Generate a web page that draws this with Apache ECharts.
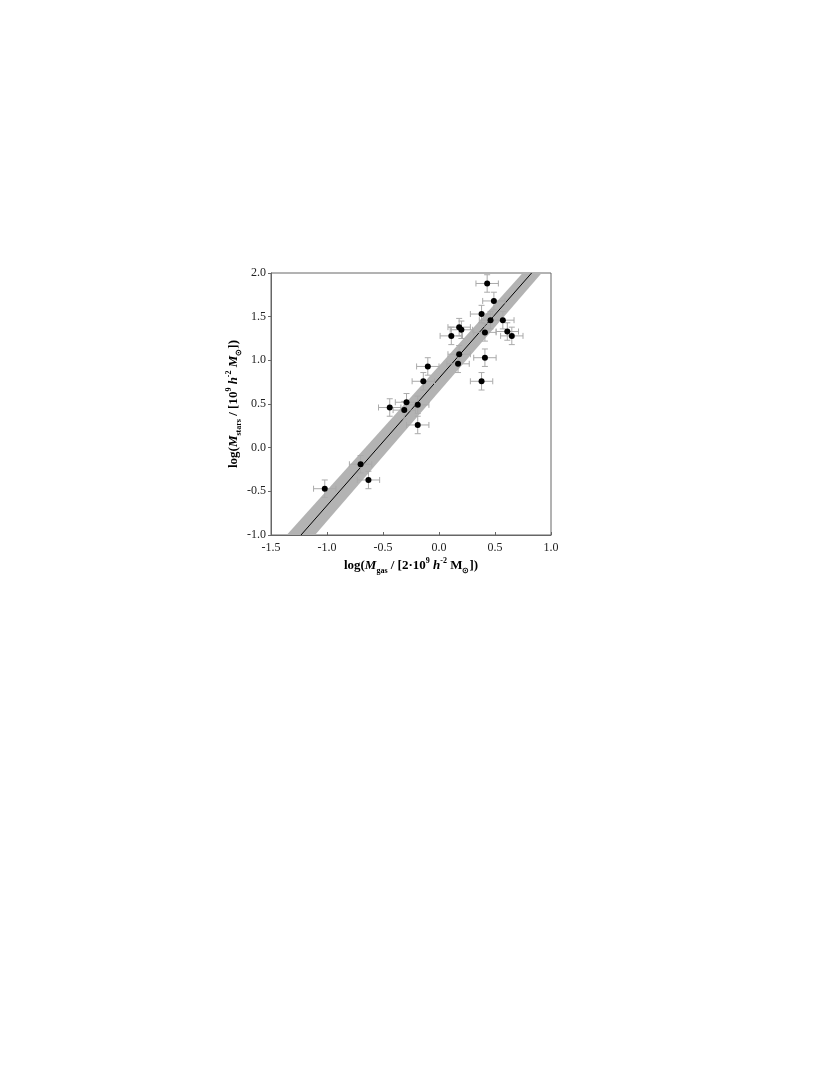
<!DOCTYPE html>
<html>
<head>
<meta charset="utf-8">
<script src="https://cdn.jsdelivr.net/npm/echarts@6/dist/echarts.min.js"></script>
<style>
  html, body { margin: 0; padding: 0; background: #fff; }
  #chart { width: 830px; height: 1075px; }
</style>
</head>
<body>
<div id="chart"></div>
<script>
// galaxies: log gas mass vs log stellar mass
const xVals = [-1.02, -0.70, -0.63, -0.44, -0.31, -0.29, -0.19, -0.19, -0.14, -0.10,
  0.11, 0.18, 0.20, 0.18, 0.17, 0.38, 0.43, 0.49, 0.46, 0.41, 0.41, 0.38, 0.57, 0.61, 0.65];
const yVals = [-0.47, -0.19, -0.37, 0.46, 0.43, 0.52, 0.49, 0.26, 0.76, 0.93,
  1.28, 1.38, 1.35, 1.07, 0.96, 1.53, 1.88, 1.68, 1.46, 1.32, 1.03, 0.76, 1.46, 1.33, 1.28];
const xErr = [0.10, 0.10, 0.10, 0.10, 0.10, 0.10, 0.10, 0.10, 0.10, 0.10,
  0.10, 0.10, 0.10, 0.10, 0.10, 0.10, 0.10, 0.10, 0.10, 0.10, 0.10, 0.10, 0.10, 0.10, 0.10];
const yErr = [0.10, 0.10, 0.10, 0.10, 0.10, 0.10, 0.10, 0.10, 0.10, 0.10,
  0.10, 0.10, 0.10, 0.10, 0.10, 0.10, 0.10, 0.10, 0.10, 0.10, 0.10, 0.10, 0.10, 0.10, 0.10];

// best fit line and its band (where they meet the frame)
const fitX = [-1.232, 0.827];
const fitY = [-1.0, 2.0];
const bandX = [-1.36, 0.747, 0.917, -1.107];
const bandY = [-1.0, 2.0, 2.0, -1.0];

const font = 'Liberation Serif';

const chart = echarts.init(document.getElementById('chart'));

const richName = {
  b: { fontFamily: font, fontWeight: 'bold', fontSize: 13, color: '#000', lineHeight: 18, verticalAlign: 'middle' },
  i: { fontFamily: font, fontWeight: 'bold', fontStyle: 'italic', fontSize: 13, color: '#000', lineHeight: 18, verticalAlign: 'middle' },
  sub: { fontFamily: font, fontWeight: 'bold', fontSize: 8, color: '#000', lineHeight: 10, verticalAlign: 'bottom' },
  sup: { fontFamily: font, fontWeight: 'bold', fontSize: 8, color: '#000', lineHeight: 10, verticalAlign: 'top' }
};

const points = xVals.map((x, i) => [x, yVals[i], xErr[i], yErr[i]]);

const option = {
  animation: false,
  backgroundColor: '#fff',
  grid: {
    left: 271, right: 279, top: 273, bottom: 540,
    show: true, borderColor: '#666', borderWidth: 1, backgroundColor: 'transparent'
  },
  xAxis: {
    type: 'value', min: -1.5, max: 1.0, interval: 0.5,
    splitLine: { show: false },
    axisLine: { onZero: false, lineStyle: { color: '#666' } },
    axisTick: { inside: true, length: 3, lineStyle: { color: '#666' } },
    axisLabel: { fontFamily: font, fontSize: 12, color: '#222', margin: 7,
      formatter: v => v.toFixed(1) },
    name: '{b|log(}{i|M}{sub|gas}{b| / [2·10}{sup|9}{b| }{i|h}{sup|-2}{b| M}{sub|⊙}{b|])}',
    nameLocation: 'middle', nameGap: 22,
    nameTextStyle: { rich: richName }
  },
  yAxis: {
    type: 'value', min: -1.0, max: 2.0, interval: 0.5,
    splitLine: { show: false },
    axisLine: { onZero: false, lineStyle: { color: '#666' } },
    axisTick: { inside: false, length: 3, lineStyle: { color: '#666' } },
    axisLabel: { fontFamily: font, fontSize: 12, color: '#222', margin: 5,
      formatter: v => v.toFixed(1) },
    name: '{b|log(}{i|M}{sub|stars}{b| / [10}{sup|9}{b| }{i|h}{sup|-2}{b| }{i|M}{sub|⊙}{b|])}',
    nameLocation: 'middle', nameGap: 23, nameRotate: 90,
    nameTextStyle: { rich: richName }
  },
  series: [
    {
      type: 'custom',
      z: 1,
      clip: true,
      data: [0],
      renderItem: (params, api) => ({
        type: 'polygon',
        shape: { points: bandX.map((x, i) => api.coord([x, bandY[i]])) },
        style: { fill: '#b3b3b3' }
      })
    },
    {
      type: 'line',
      z: 2,
      data: fitX.map((x, i) => [x, fitY[i]]),
      showSymbol: false,
      lineStyle: { color: '#000', width: 1 }
    },
    {
      type: 'custom',
      z: 3,
      data: points,
      renderItem: (params, api) => {
        const x = api.value(0), y = api.value(1), ex = api.value(2), ey = api.value(3);
        const l = api.coord([x - ex, y]), r = api.coord([x + ex, y]);
        const t = api.coord([x, y + ey]), b = api.coord([x, y - ey]);
        const cap = 3;
        const st = { stroke: '#aaa', lineWidth: 1 };
        const seg = (x1, y1, x2, y2) => ({ type: 'line', shape: { x1, y1, x2, y2 }, style: st });
        return {
          type: 'group',
          children: [
            seg(l[0], l[1], r[0], r[1]),
            seg(l[0], l[1] - cap, l[0], l[1] + cap),
            seg(r[0], r[1] - cap, r[0], r[1] + cap),
            seg(t[0], t[1], b[0], b[1]),
            seg(t[0] - cap, t[1], t[0] + cap, t[1]),
            seg(b[0] - cap, b[1], b[0] + cap, b[1])
          ]
        };
      }
    },
    {
      type: 'scatter',
      z: 4,
      data: xVals.map((x, i) => [x, yVals[i]]),
      symbol: 'circle',
      symbolSize: 6,
      itemStyle: { color: '#000', opacity: 1 }
    }
  ]
};

chart.setOption(option);
</script>
</body>
</html>
